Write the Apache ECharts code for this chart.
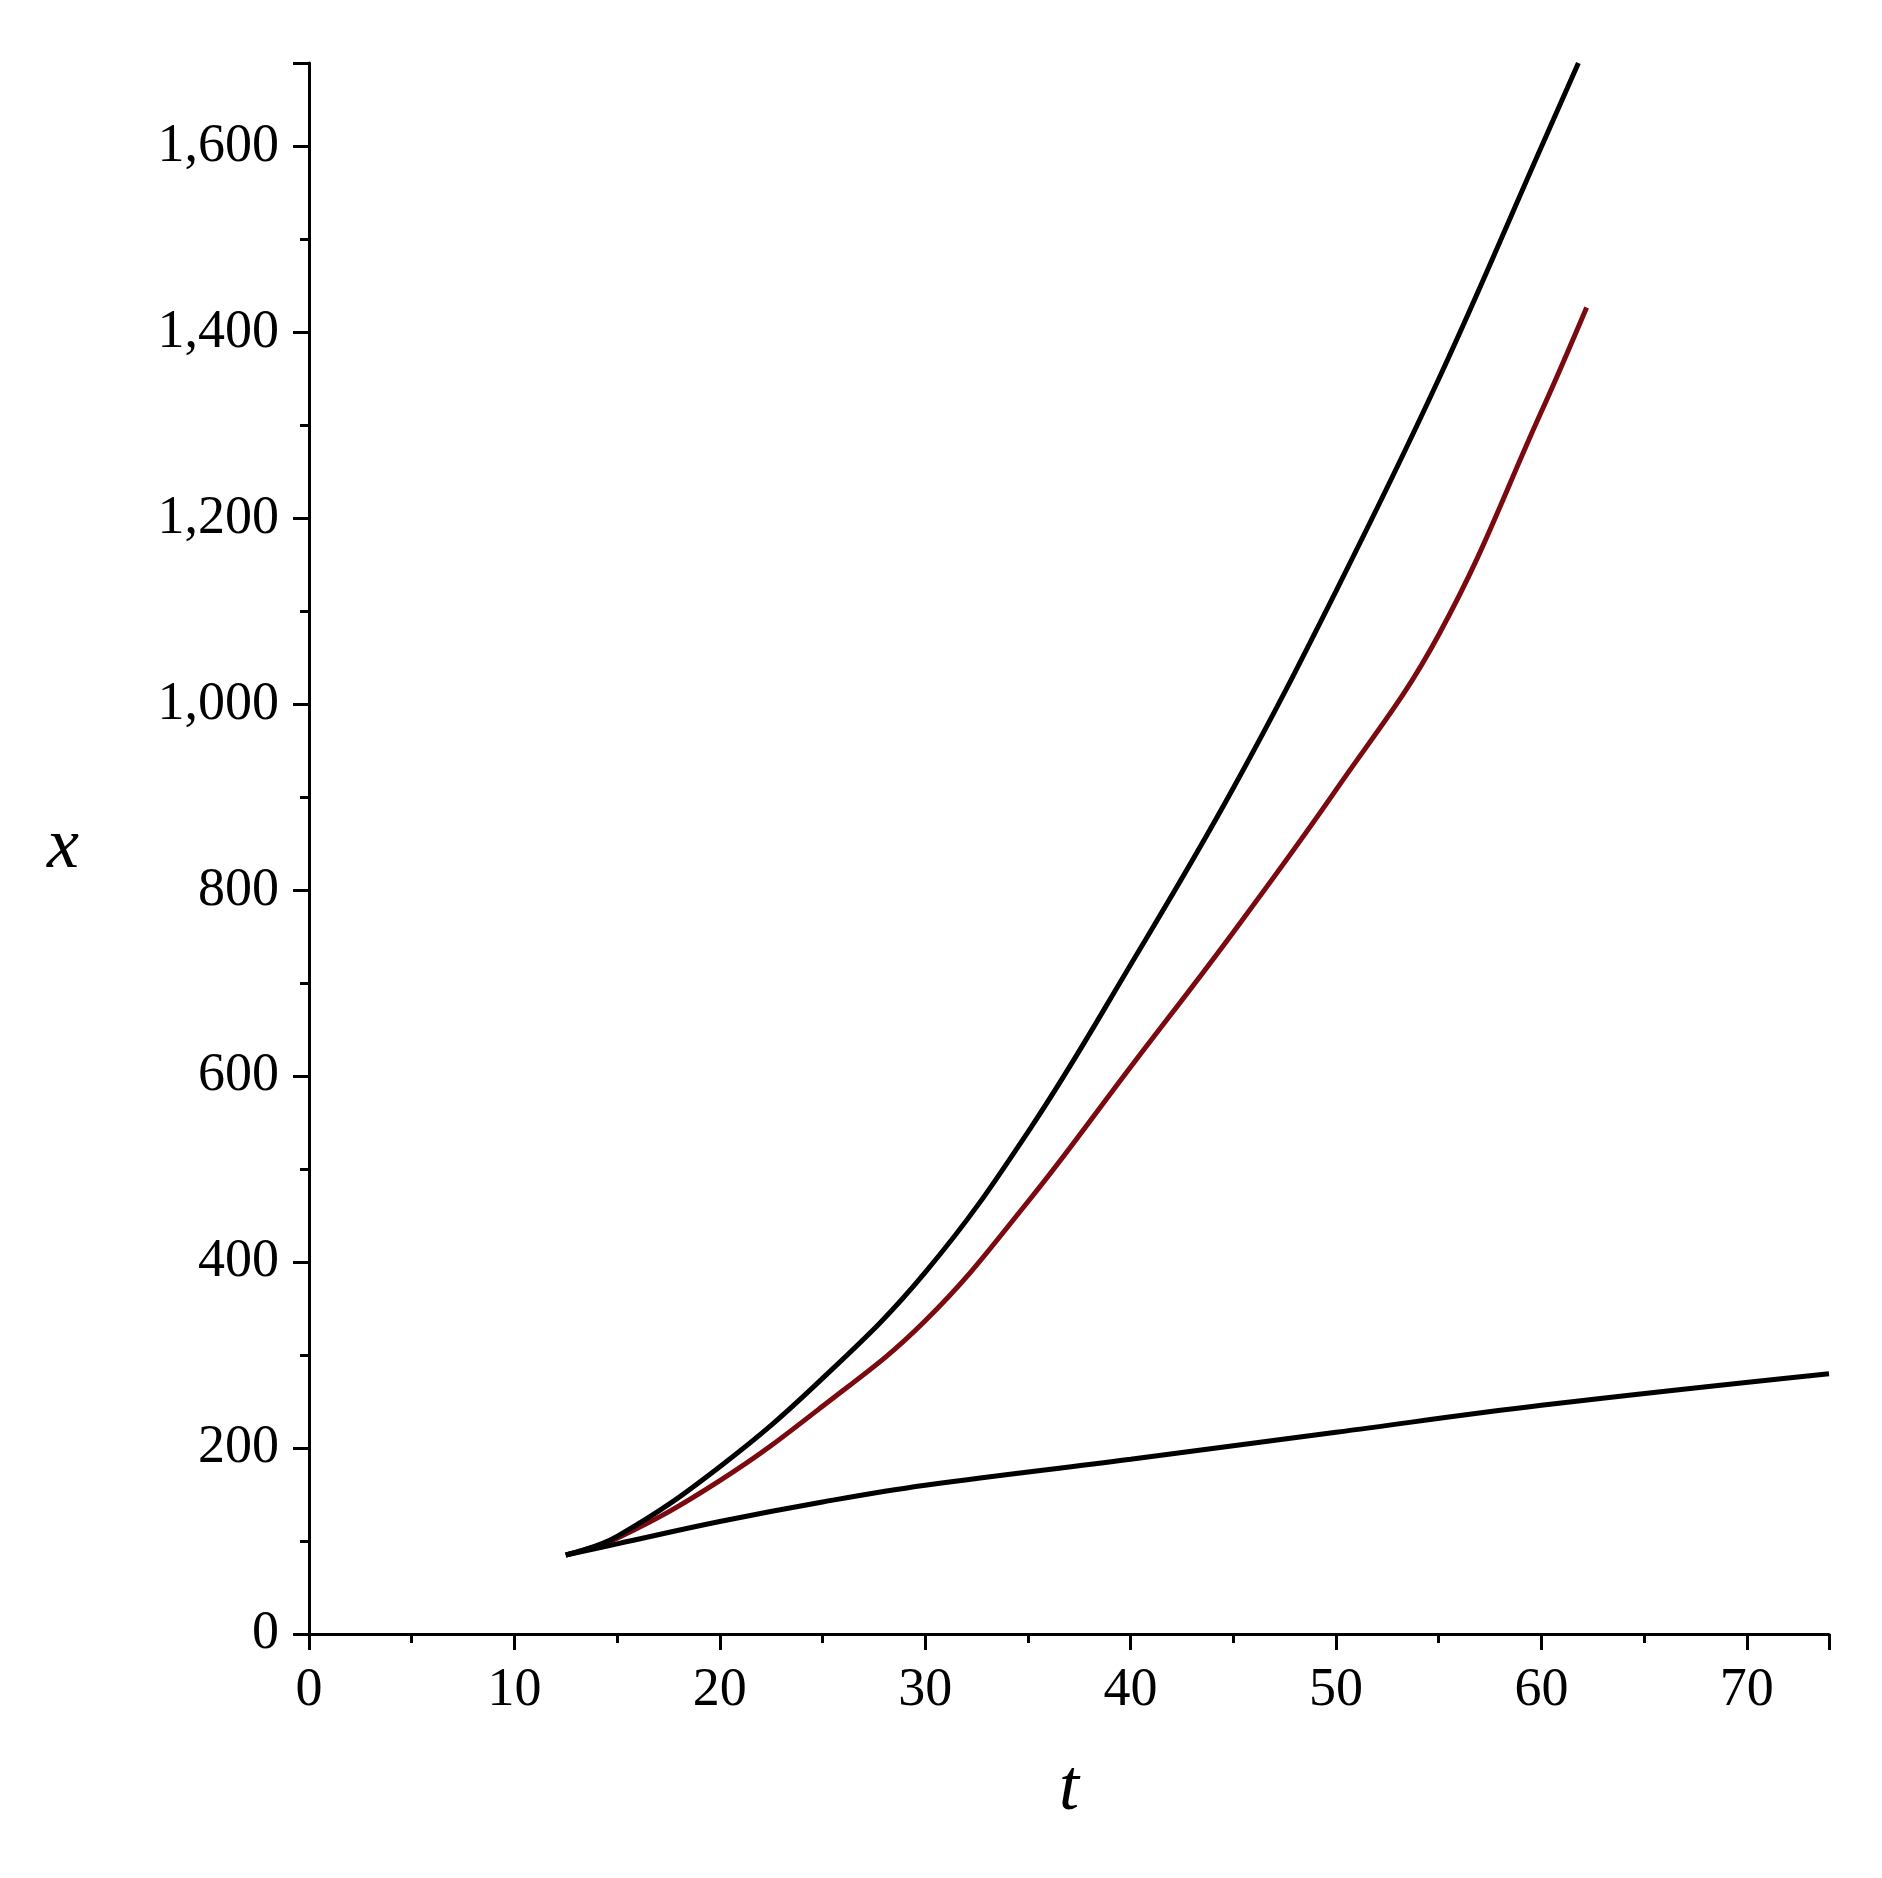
<!DOCTYPE html><html><head><meta charset="utf-8"><script src="https://cdn.jsdelivr.net/npm/echarts@6/dist/echarts.min.js"></script>
<style>html,body{margin:0;background:#fff}#c{width:1882px;height:1878px}</style></head><body><div id="c"></div><script>
const upper=[[12.5,85],[15,105],[20,180],[25,275],[30,389],[35,540],[40,720],[45,910],[50,1122],[55,1350],[60,1600],[61.8,1690]];
const red=[[12.5,85],[15,103],[20,165],[25,245],[30,337],[35,465],[40,610],[45,755],[50,908],[55,1075],[60,1315],[62.2,1427]];
const lower=[[12.5,85],[15,97],[20,121],[25,142],[30,160],[40,188],[50,217],[60,246],[74,280]];
const xTicks=[0,10,20,30,40,50,60,70];
const yTicks=[0,200,400,600,800,1000,1200,1400,1600];
const font='Liberation Serif';
const mk=(d,c)=>({type:'line',data:d,smooth:0.4,showSymbol:false,lineStyle:{color:c,width:5},z:c==='#000'?3:2});
const ax={axisLine:{lineStyle:{color:'#000',width:3}},axisTick:{lineStyle:{color:'#000',width:3},length:16},minorTick:{show:true,splitNumber:2,length:9,lineStyle:{color:'#000',width:3}},splitLine:{show:false},axisLabel:{color:'#000',fontFamily:font,fontSize:54}};
echarts.init(document.getElementById('c')).setOption({animation:false,
grid:{left:309,right:53,top:63,bottom:244},
xAxis:Object.assign({type:'value',min:0,max:74,interval:10,name:'t',nameLocation:'middle',nameGap:120,nameTextStyle:{fontFamily:font,fontStyle:'italic',fontSize:72,color:'#000'},axisLabel:Object.assign({},ax.axisLabel,{margin:30,customValues:xTicks}),axisTick:Object.assign({},ax.axisTick,{inside:false})},{axisLine:ax.axisLine,minorTick:ax.minorTick,splitLine:ax.splitLine}),
yAxis:Object.assign({type:'value',min:0,max:1690,interval:200,name:'x',nameLocation:'middle',nameGap:230,nameRotate:0,nameTextStyle:{fontFamily:font,fontStyle:'italic',fontSize:72,color:'#000'},axisLabel:Object.assign({},ax.axisLabel,{margin:30,customValues:yTicks}),axisTick:Object.assign({},ax.axisTick,{inside:false})},{axisLine:ax.axisLine,minorTick:ax.minorTick,splitLine:ax.splitLine}),
series:[mk(red,'#7a0a0f'),mk(upper,'#000'),mk(lower,'#000')]});
</script></body></html>
